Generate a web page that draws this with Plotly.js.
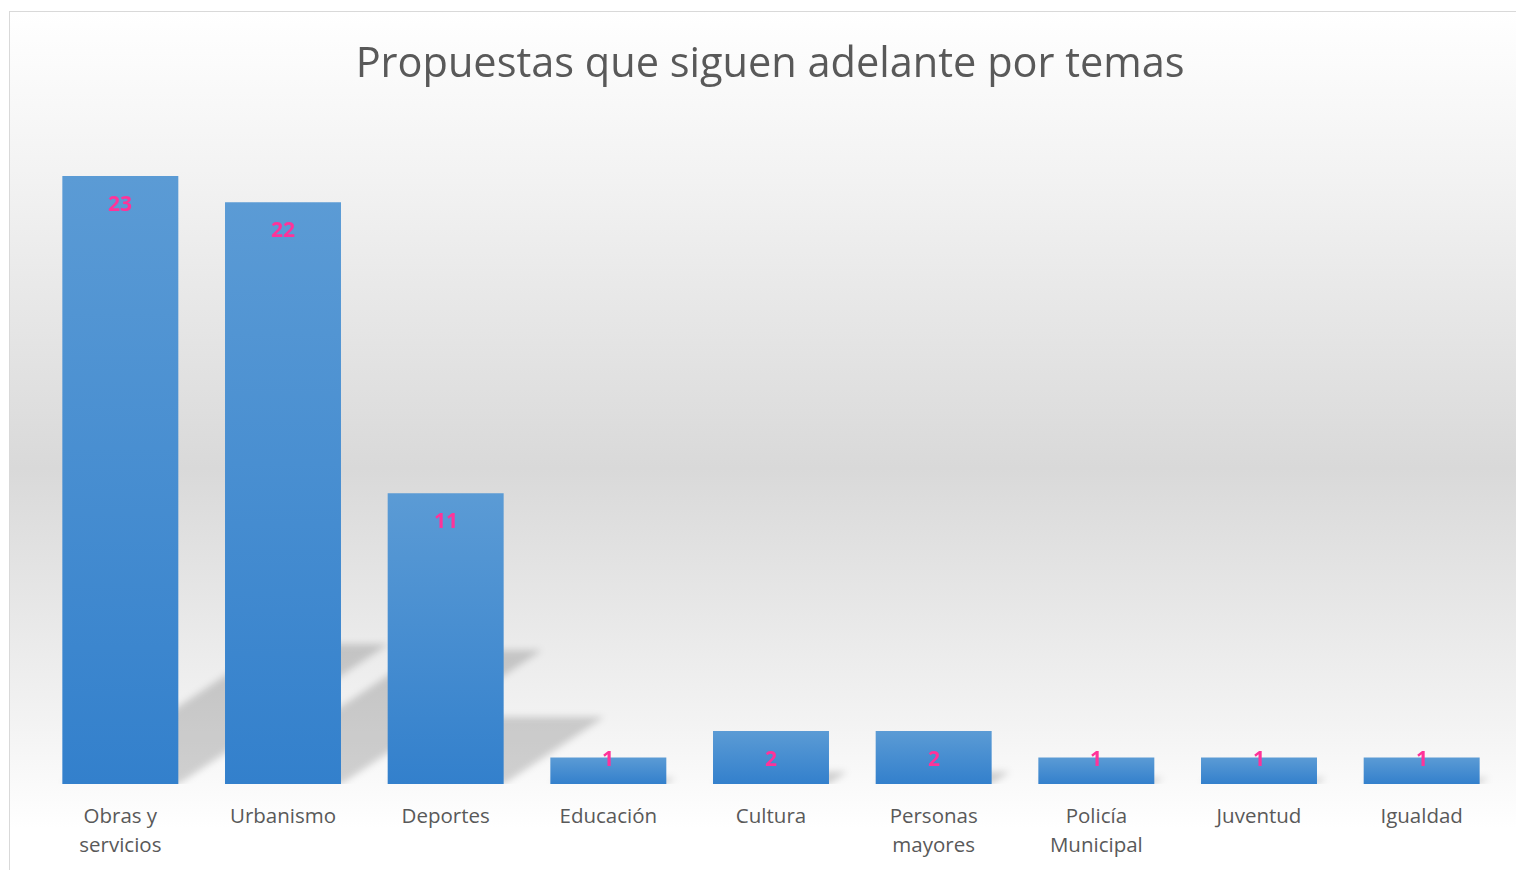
<!DOCTYPE html>
<html>
<head>
<meta charset="utf-8">
<script src="https://cdn.plot.ly/plotly-3.0.1.min.js"></script>
<style>
  html, body { margin: 0; padding: 0; background: #ffffff; width: 1516px; height: 870px; overflow: hidden; }
  #frame {
    position: absolute; left: 9px; top: 11px; width: 1520px; height: 880px;
    border: 1.5px solid #d9d9d9; box-sizing: border-box;
    background: linear-gradient(to bottom, #ffffff 0%, #f3f3f3 18%, #d9d9d9 52%, #f2f2f2 80%, #ffffff 93%, #ffffff 100%);
  }
  #chart { position: absolute; left: 0; top: 0; width: 1516px; height: 870px; }
</style>
</head>
<body>
<div id="frame"></div>
<div id="chart"></div>
<script>
const categories = ["Obras y<br>servicios", "Urbanismo", "Deportes", "Educación", "Cultura", "Personas<br>mayores", "Policía<br>Municipal", "Juventud", "Igualdad"];
const values = [23, 22, 11, 1, 2, 2, 1, 1, 1];
const chartTitle = "Propuestas que siguen adelante por temas";

const FONT = "'Open Sans', 'Noto Sans', sans-serif";

const labelAnnotations = categories.map((c, i) => ({
  x: c, y: values[i], xref: 'x', yref: 'y',
  text: '<b>' + String(values[i]) + '</b>', showarrow: false,
  yanchor: 'middle', yshift: values[i] >= 2 ? -27 : 0,
  font: { family: FONT, size: 21, color: '#ff3399' }
}));

const trace = {
  type: 'bar',
  x: categories,
  y: values,
  marker: { color: '#4a8fd4', line: { width: 0 } },
  hoverinfo: 'x+y'
};

const layout = {
  width: 1516, height: 870,
  margin: { l: 39, r: 13, t: 123, b: 86 },
  paper_bgcolor: 'rgba(0,0,0,0)',
  plot_bgcolor: 'rgba(0,0,0,0)',
  bargap: 0.287,
  showlegend: false,
  title: {
    text: chartTitle,
    font: { family: FONT, size: 41.5, color: '#595959' },
    x: 0.508, xanchor: 'center', y: 0.928, yanchor: 'middle'
  },
  xaxis: {
    type: 'category',
    showgrid: false, zeroline: false, showline: false,
    ticks: '', ticklabelstandoff: 17,
    tickfont: { family: FONT, size: 20.5, color: '#595959' }
  },
  yaxis: {
    range: [0, 25],
    visible: false, showgrid: false, zeroline: false, fixedrange: true
  },
  annotations: labelAnnotations
};

function decorate() {
  const svg = document.querySelector('#chart .main-svg');
  const ns = 'http://www.w3.org/2000/svg';
  let defs = svg.querySelector('defs');
  if (!defs) { defs = document.createElementNS(ns, 'defs'); svg.insertBefore(defs, svg.firstChild); }
  if (!document.getElementById('barGrad')) {
    const grad = document.createElementNS(ns, 'linearGradient');
    grad.setAttribute('id', 'barGrad');
    grad.setAttribute('x1', '0'); grad.setAttribute('y1', '0');
    grad.setAttribute('x2', '0'); grad.setAttribute('y2', '1');
    [['0%', '#5b9bd5'], ['100%', '#3380cc']].forEach(([o, c]) => {
      const s = document.createElementNS(ns, 'stop');
      s.setAttribute('offset', o); s.setAttribute('stop-color', c);
      grad.appendChild(s);
    });
    defs.appendChild(grad);
    const filt = document.createElementNS(ns, 'filter');
    filt.setAttribute('id', 'shadowBlur');
    filt.setAttribute('x', '-20%'); filt.setAttribute('y', '-20%');
    filt.setAttribute('width', '140%'); filt.setAttribute('height', '140%');
    const blur = document.createElementNS(ns, 'feGaussianBlur');
    blur.setAttribute('stdDeviation', '3.5');
    filt.appendChild(blur);
    defs.appendChild(filt);
  }
  const points = document.querySelectorAll('#chart .bars .point');
  if (!points.length) return;
  const ya = document.getElementById('chart')._fullLayout.yaxis;
  const base = ya._length;           // baseline in plot-local coordinates
  const k = 0.23, s = 0.345;         // perspective shadow: height factor, lean factor
  const parent = points[0].parentNode;
  const shadowG = document.createElementNS(ns, 'g');
  shadowG.setAttribute('class', 'bar-shadows');
  shadowG.setAttribute('filter', 'url(#shadowBlur)');
  points.forEach(pt => {
    const p = pt.querySelector('path');
    p.style.fill = 'url(#barGrad)';
    const sh = p.cloneNode(true);
    sh.style.fill = 'rgba(0,0,0,0.17)';
    sh.setAttribute('transform', `matrix(1,0,${-s},${k},${s * base},${(1 - k) * base})`);
    shadowG.appendChild(sh);
  });
  parent.insertBefore(shadowG, parent.firstChild);
  // wider line spacing for two-line tick labels
  document.querySelectorAll('#chart .xtick text tspan.line').forEach((t, i) => {
    if (t.getAttribute('dy') && t.getAttribute('dy') !== '0em') t.setAttribute('dy', '1.46em');
  });
}

Plotly.newPlot('chart', [trace], layout, { displayModeBar: false, staticPlot: true }).then(decorate);
</script>
</body>
</html>
